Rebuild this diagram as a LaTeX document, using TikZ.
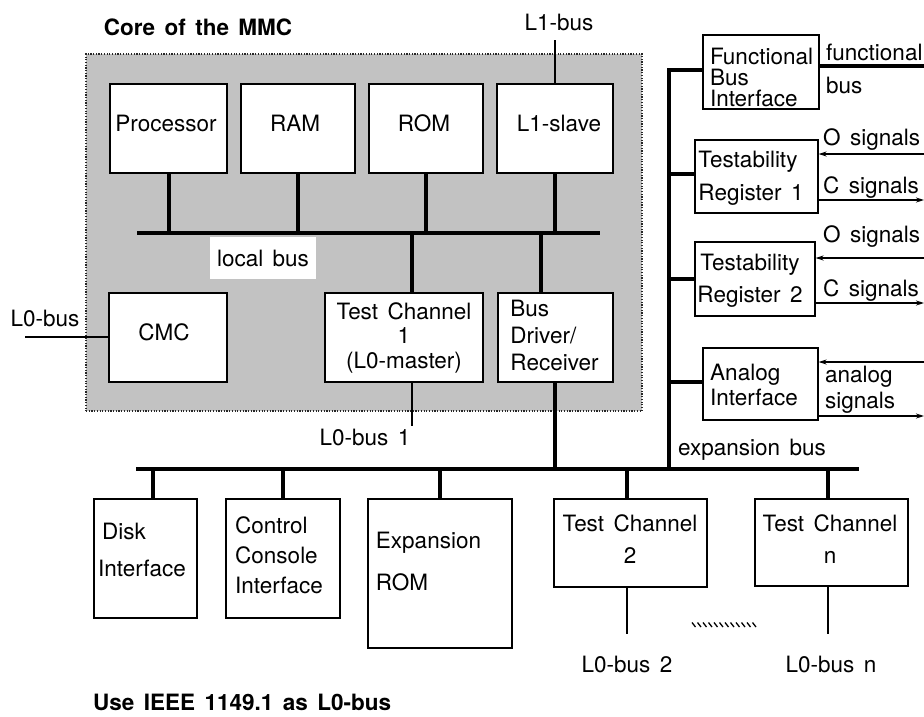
\documentclass[tikz,border=0pt]{standalone}
\usepackage{fontspec}
\setmainfont{TeX Gyre Heros}
\usetikzlibrary{arrows.meta,calc}
\newcommand\hv[1]{\fontsize{22.5}{#1}\selectfont\spaceskip=0.42em plus 0.1em\relax}
\begin{document}
\begin{tikzpicture}[x=1pt,y=-1pt,
  box/.style={draw, line width=1.2pt, fill=white, inner sep=0pt},
  txt/.style={inner sep=0pt, font=\hv{26}},
  corebox/.style={draw=black!85, fill=black!24, line width=1.8pt, dash pattern=on 1.2pt off 1.5pt, inner sep=0pt},
  bus/.style={line width=4.6pt},
  stem/.style={line width=4pt},
  thinline/.style={line width=1.3pt},
  sig/.style={line width=1.3pt, -{Stealth[length=8pt,width=5pt]}},
]
\useasboundingbox (0,0) rectangle (924,716);
\fill[white] (0,0) rectangle (924,716);

% core region
\node[corebox, minimum width=556pt, minimum height=357pt] (core) at (364,232.5) {};
\node[txt, font=\hv{26}\bfseries] (title) at (198,27) {Core of the MMC};

% boxes
\node[box, minimum width=117pt, minimum height=89pt] (proc) at (168.5,128.5) {};
\node[box, minimum width=114pt, minimum height=89pt] (ram) at (298,128.5) {};
\node[box, minimum width=114pt, minimum height=89pt] (rom) at (426,128.5) {};
\node[box, minimum width=116pt, minimum height=89pt] (l1s) at (555,128.5) {};
\node[box, minimum width=118pt, minimum height=89pt] (cmc) at (168,337.5) {};
\node[box, minimum width=158pt, minimum height=89pt] (tc1) at (404,337.5) {};
\node[box, minimum width=115pt, minimum height=89pt] (bd) at (555.5,337.5) {};
\node[box, minimum width=116pt, minimum height=74pt] (fbi) at (761,72) {};
\node[box, minimum width=123pt, minimum height=73pt] (tr1) at (756.5,176.5) {};
\node[box, minimum width=120pt, minimum height=74pt] (tr2) at (755,279) {};
\node[box, minimum width=115pt, minimum height=72pt] (ai) at (760.5,384) {};
\node[box, minimum width=103pt, minimum height=119pt] (disk) at (145.5,558.5) {};
\node[box, minimum width=114pt, minimum height=119pt] (ccon) at (283,558.5) {};
\node[box, minimum width=144pt, minimum height=149pt] (erom) at (440,573.5) {};
\node[box, minimum width=153pt, minimum height=88pt] (tc2) at (630.5,543) {};
\node[box, minimum width=153pt, minimum height=87pt] (tcn) at (831.5,542.5) {};

% box texts
\node[txt] (proc-t) at (166,123) {Processor};
\node[txt] (ram-t) at (295,123) {RAM};
\node[txt] (rom-t) at (424,123) {ROM};
\node[txt] (l1s-t) at (559,123) {L1-slave};
\node[txt] (cmc-t) at (164,332) {CMC};
\node[txt, align=center, font=\hv{24.5}] (tc1-t) at (404,337.5) {Test Channel\\1\\(L0-master)};
\node[txt, align=left, font=\hv{27}] (bd-t) at (554.5,335.5) {Bus\\Driver/\\Receiver};
\node[txt, align=left, font=\hv{21}] (fbi-t) at (761.5,77) {Functional\\Bus\\Interface};
\node[txt, align=left, font=\hv{33}] (tr1-t) at (751,178) {Testability\\Register 1};
\node[txt, align=center, font=\hv{32}] (tr2-t) at (750,281) {Testability\\Register 2};
\node[txt, align=left, font=\hv{25}] (ai-t) at (754,384.5) {Analog\\Interface};
\node[txt, align=left, font=\hv{37}] (disk-t) at (142,550) {\hspace*{4pt}Disk\\Interface};
\node[txt, align=left, font=\hv{30}] (ccon-t) at (279,555) {Control\\Console\\Interface};
\node[txt, align=left, font=\hv{42}] (erom-t) at (428.5,561) {Expansion\\ ROM};
\node[txt, align=center, font=\hv{32}] (tc2-t) at (630,539) {Test Channel\\2};
\node[txt, align=center, font=\hv{32}] (tcn-t) at (830,539) {Test Channel\\n};

% local bus
\coordinate (lbW) at (137,233);
\coordinate (lbE) at (600,233);
\draw[bus] (lbW) -- (lbE);
\foreach \n in {proc,ram,rom,l1s} \draw[stem] (\n.south) -- (\n.south |- lbW);
\coordinate (tc1n) at ([xshift=8pt]tc1.north);
\draw[stem] (tc1n) -- (tc1n |- lbW);
\coordinate (bdn) at ([xshift=-14.5pt]bd.north);
\draw[stem] (bdn) -- (bdn |- lbW);
\node[txt, fill=white, minimum width=106pt, minimum height=42pt] (lbl) at (263,258) {local bus};

% L1-bus
\node[txt] (l1bus) at (559,22) {L1-bus};
\coordinate (l1top) at (555,40);
\draw[thinline] (l1top) -- (l1top |- l1s.north);

% L0-bus into CMC
\node[txt] (l0bus) at (45,318) {L0-bus};
\coordinate (l0W) at (25,337);
\draw[thinline] (l0W) -- (l0W -| cmc.west);

% L0-bus 1
\coordinate (tc1s) at ([xshift=8pt]tc1.south);
\draw[thinline] (tc1s) -- ++(0,43);
\node[txt] (l0b1) at (365,437) {L0-bus 1};

% expansion bus
\coordinate (ebW) at (136,469);
\coordinate (ebE) at (859,469);
\draw[bus] (ebW) -- (ebE);
\coordinate (bds) at ([xshift=-0.5pt]bd.south);
\draw[bus] (bds) -- (bds |- ebW);
\coordinate (evT) at (669,68);
\draw[bus] (evT) -- (evT |- ebW);
\node[txt] (expl) at (752,450) {expansion bus};

% stubs to right column
\coordinate (fbiw) at ([yshift=2pt]fbi.west);
\draw[stem] (fbiw) -- (fbiw -| evT);
\coordinate (tr1w) at ([yshift=2.5pt]tr1.west);
\draw[stem] (tr1w) -- (tr1w -| evT);
\draw[stem] (tr2.west) -- (tr2.west -| evT);
\coordinate (aiw) at ([yshift=2pt]ai.west);
\draw[stem] (aiw) -- (aiw -| evT);

% functional bus
\coordinate (fbE) at (924,66);
\draw[bus] (fbE) -- (fbE -| fbi.east);
\node[txt, align=left, font=\hv{33}, anchor=west] (fbl) at (826,69) {functional\\bus};

% signals
\coordinate (o1) at (924,154);
\draw[sig] (o1) -- (o1 -| tr1.east);
\coordinate (c1) at (924,200);
\draw[sig] (c1 -| tr1.east) -- (c1);
\node[txt, anchor=west] (o1l) at (823,140) {O signals};
\node[txt, anchor=west] (c1l) at (823,188) {C signals};

\coordinate (o2) at (924,258);
\draw[sig] (o2) -- (o2 -| tr2.east);
\coordinate (c2) at (924,303);
\draw[sig] (c2 -| tr2.east) -- (c2);
\node[txt, anchor=west] (o2l) at (823,237) {O signals};
\node[txt, anchor=west] (c2l) at (823,291) {C signals};

\coordinate (ain) at (924,362);
\draw[sig] (ain) -- (ain -| ai.east);
\coordinate (aout) at (924,416);
\draw[sig] (aout -| ai.east) -- (aout);
\node[txt, align=left, font=\hv{26}, anchor=west] (asl) at (825,390) {analog\\signals};

% expansion bus stems
\coordinate (diskn) at ([xshift=7.5pt]disk.north);
\draw[stem] (diskn) -- (diskn |- ebW);
\draw[stem] (ccon.north) -- (ccon.north |- ebW);
\draw[stem] (erom.north) -- (erom.north |- ebW);
\coordinate (tc2n) at ([xshift=-3.5pt]tc2.north);
\draw[stem] (tc2n) -- (tc2n |- ebW);
\coordinate (tcnn) at ([xshift=-3.5pt]tcn.north);
\draw[stem] (tcnn) -- (tcnn |- ebW);

% L0-bus 2 / n
\coordinate (tc2s) at ([xshift=-3.5pt]tc2.south);
\draw[thinline] (tc2s) -- ++(0,46);
\coordinate (tcns) at ([xshift=-3.5pt]tcn.south);
\draw[thinline] (tcns) -- ++(0,47);
\node[txt] (l0b2) at (627,664) {L0-bus 2};
\node[txt] (l0bn) at (831,664) {L0-bus n};

% hatch between
\foreach \x in {692,697.5,...,756} \draw[line width=1.3pt] (\x,622.5) -- ++(3.5,4.5);

% footer
\node[txt, font=\hv{26}\bfseries, anchor=west] (foot) at (93,702) {Use IEEE 1149.1 as L0-bus};
\end{tikzpicture}
\end{document}
